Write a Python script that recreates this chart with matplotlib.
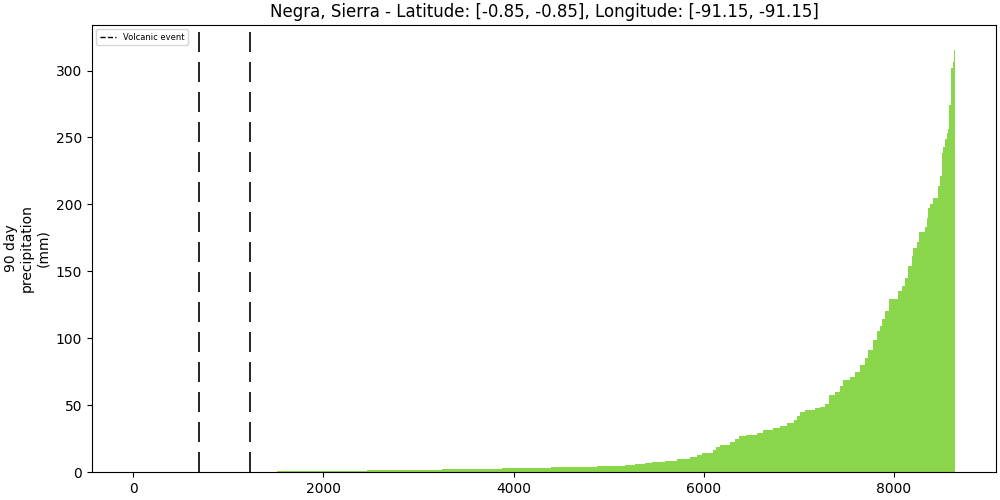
import numpy as np
import matplotlib
matplotlib.use("Agg")
import matplotlib.pyplot as plt
from matplotlib.lines import Line2D

# Sorted 90-day precipitation, expressed as plateaus: start rank and value
rank_start = [0, 1516, 2454, 3243, 3875, 4391, 4876, 5170, 5276, 5381, 5455, 5592,
              5718, 5855, 5929, 5981, 6097, 6128, 6170, 6276, 6328, 6371, 6444,
              6560, 6623, 6729, 6802, 6876, 6950, 6981, 7013, 7066, 7171, 7224,
              7276, 7318, 7381, 7434, 7466, 7540, 7592, 7645, 7698, 7729, 7782,
              7824, 7855, 7876, 7908, 7950, 8045, 8087, 8118, 8150, 8192, 8203,
              8245, 8266, 8329, 8350, 8361, 8382, 8414, 8466, 8487, 8508, 8519,
              8540, 8561, 8571, 8582, 8603, 8624, 8634]
precip = [0.0, 0.7, 1.5, 2.3, 3.0, 3.7, 4.6, 5.4, 6.0, 6.6, 7.5, 8.3,
          9.5, 11.0, 12.5, 14.0, 16.5, 18.5, 20.0, 22.5, 25.0, 27.0, 27.8,
          29.5, 31.5, 33.0, 34.5, 36.5, 38.5, 42.0, 44.5, 46.5, 47.5, 48.5,
          50.5, 57.5, 60.0, 64.5, 68.5, 71.0, 75.0, 80.0, 85.0, 91.5, 99.0,
          105.0, 109.0, 114.0, 120.0, 129.0, 135.0, 139.0, 145.0, 154.0, 161.5, 167.0,
          171.5, 179.0, 183.0, 190.0, 197.0, 200.0, 205.0, 214.0, 221.5, 238.0, 243.0,
          249.0, 253.0, 256.5, 274.0, 301.5, 306.5, 315.0]
n_total = 8640
volcanic_events = [695, 1233]

widths = np.diff(rank_start + [n_total])

fig, ax = plt.subplots(figsize=(10, 5), dpi=100)
ax.bar(rank_start, precip, width=widths, align='edge', color='#8AD64A',
       linewidth=0)
ax.set_xlim(-0.05 * n_total, n_total * 1.05)
for ev in volcanic_events:
    ax.axvline(ev, color='black', linewidth=1.2, dashes=(12, 6))

handle = Line2D([], [], color='black', linestyle='--', linewidth=1)
ax.legend([handle], ['Volcanic event'], loc='upper left', fontsize=6)

ax.set_title('Negra, Sierra - Latitude: [-0.85, -0.85], Longitude: [-91.15, -91.15]')
ax.set_ylabel('90 day\nprecipitation\n(mm)')
ax.set_ylim(0, 334)
fig.subplots_adjust(left=0.092, right=0.996, top=0.95, bottom=0.056)
fig.savefig('out.png')
